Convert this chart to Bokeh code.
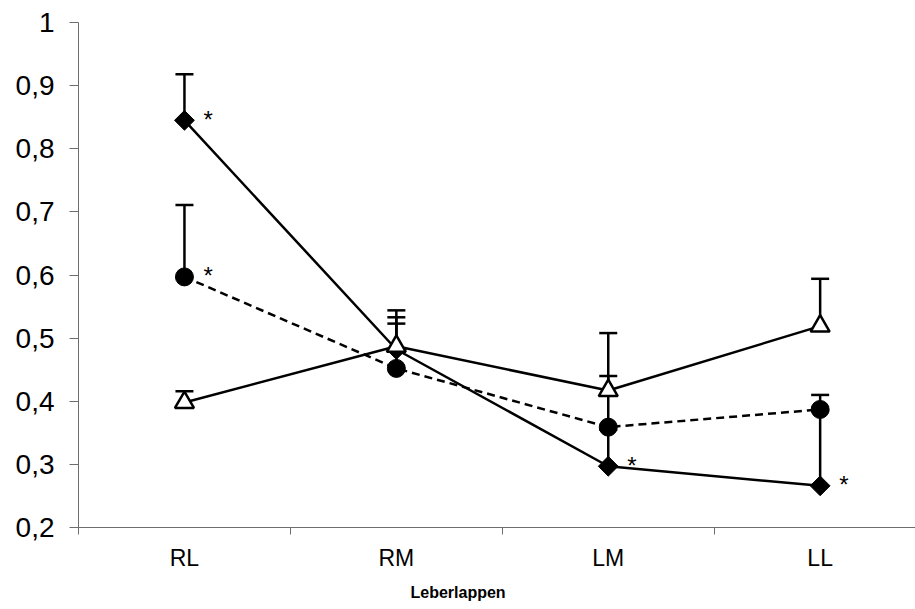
import numpy as np
from bokeh.plotting import figure
from bokeh.models import (Range1d, FixedTicker, CustomJSTickFormatter, ColumnDataSource,
                          Whisker, TeeHead, Title)
from bokeh.core.properties import value
from bokeh.embed import file_html
from bokeh.resources import INLINE

# Liver lobes
categories = ["RL", "RM", "LM", "LL"]

# Group A (filled diamonds, solid line)
diamond_mean = [0.845, 0.482, 0.297, 0.266]
diamond_sd = [0.073, 0.041, 0.058, 0.119]
diamond_sig = [True, False, True, True]

# Group B (filled circles, dashed line)
circle_mean = [0.597, 0.452, 0.359, 0.387]
circle_sd = [0.114, 0.081, 0.081, 0.023]
circle_sig = [True, False, False, False]

# Group C (open triangles, solid line)
triangle_mean = [0.398, 0.487, 0.417, 0.519]
triangle_sd = [0.018, 0.057, 0.091, 0.075]

y_ticks = [0.2, 0.3, 0.4, 0.5, 0.6, 0.7, 0.8, 0.9, 1.0]
x_title = "Leberlappen"

FONT = "Liberation Sans"
LW = 2.5
xpos = [i + 0.5 for i in range(len(categories))]

p = figure(width=915, height=609, output_backend="svg", toolbar_location=None,
           x_range=Range1d(0, 3.95), y_range=Range1d(0.2, 1.0),
           min_border_left=78, min_border_right=0, min_border_top=22,
           min_border_bottom=80)
p.outline_line_color = None
p.xgrid.visible = False
p.ygrid.visible = False
p.background_fill_color = "white"
p.border_fill_color = "white"


def series(mean, sd):
    top = [m + s for m, s in zip(mean, sd)]
    return ColumnDataSource(dict(x=xpos, y=mean, top=top))


src_d = series(diamond_mean, diamond_sd)
src_c = series(circle_mean, circle_sd)
src_t = series(triangle_mean, triangle_sd)

# connecting lines
p.line("x", "y", source=src_d, line_color="black", line_width=LW)
p.line("x", "y", source=src_c, line_color="black", line_width=LW, line_dash="8 5")
p.line("x", "y", source=src_t, line_color="black", line_width=LW)

# upper error bars
for src in (src_d, src_c, src_t):
    w = Whisker(source=src, base="x", lower="y", upper="top", dimension="height",
                line_color="black", line_width=LW, lower_head=None,
                upper_head=TeeHead(size=18, line_color="black", line_width=LW))
    p.add_layout(w)

# markers
p.scatter("x", "y", source=src_d, marker="square", angle=np.pi / 4, size=14,
          fill_color="black", line_color="black")
p.scatter("x", "y", source=src_c, marker="circle", size=18,
          fill_color="black", line_color="black")
p.scatter("x", "y", source=src_t, marker="triangle", size=19,
          fill_color="white", line_color="black", line_width=LW)

# significance asterisks
sx = [x for x, s in zip(xpos, diamond_sig) if s] + [x for x, s in zip(xpos, circle_sig) if s]
sy = [y for y, s in zip(diamond_mean, diamond_sig) if s] + [y for y, s in zip(circle_mean, circle_sig) if s]
p.text(x=sx, y=sy, text=["*"] * len(sx), x_offset=19, y_offset=-1,
       text_font=value(FONT), text_font_size="24px", text_color="black",
       text_align="left", text_baseline="middle")

# y axis
p.yaxis.ticker = FixedTicker(ticks=y_ticks)
p.yaxis.formatter = CustomJSTickFormatter(
    code="return Math.abs(tick - 1) < 1e-9 ? '1' : tick.toFixed(1).replace('.', ',');")
p.yaxis.axis_line_color = "#6e6e6e"
p.yaxis.major_tick_line_color = "#6e6e6e"
p.yaxis.major_tick_out = 9
p.yaxis.major_tick_in = 0
p.yaxis.minor_tick_line_color = None
p.yaxis.major_label_text_font = FONT
p.yaxis.major_label_text_font_size = "28px"
p.yaxis.major_label_text_color = "black"
p.yaxis.major_label_standoff = 15

# x axis: labels at category centres, tick marks at category boundaries
p.xaxis.ticker = FixedTicker(ticks=xpos, minor_ticks=[0, 1, 2, 3])
p.xaxis.major_label_overrides = {x: c for x, c in zip(xpos, categories)}
p.xaxis.axis_line_color = "#6e6e6e"
p.xaxis.major_tick_line_color = None
p.xaxis.major_tick_out = 0
p.xaxis.major_tick_in = 0
p.xaxis.minor_tick_line_color = "#6e6e6e"
p.xaxis.minor_tick_out = 7
p.xaxis.minor_tick_in = 0
p.xaxis.major_label_text_font = FONT
p.xaxis.major_label_text_font_size = "23px"
p.xaxis.major_label_text_color = "black"
p.xaxis.major_label_standoff = 10

# axis title below the category labels
p.add_layout(Title(text=x_title, align="left", offset=332, standoff=17,
                   text_font=FONT, text_font_size="16px", text_font_style="bold",
                   text_color="black"), "below")

open("out.html", "w").write(file_html(p, INLINE))
